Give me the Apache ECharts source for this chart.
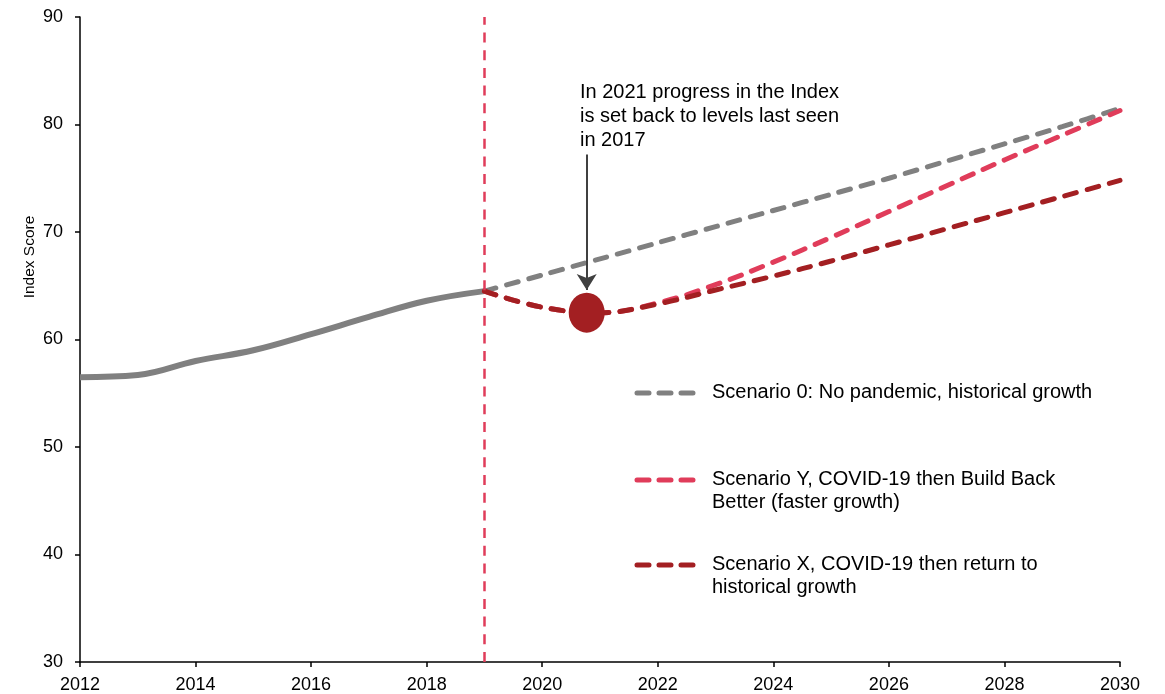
<!DOCTYPE html>
<html>
<head>
<meta charset="utf-8">
<script src="https://cdn.jsdelivr.net/npm/echarts@6/dist/echarts.min.js"></script>
<style>html,body{margin:0;padding:0;background:#fff}#c{width:1165px;height:694px}</style>
</head>
<body>
<div id="c"></div>
<script>
// ---- data ----
const histYears = [2012, 2013, 2014, 2015, 2016, 2017, 2018, 2019];
const histValues = [56.5, 56.7, 58.0, 59.0, 60.5, 62.1, 63.6, 64.5];
const projYears = [2019, 2020, 2021, 2022, 2023, 2024, 2025, 2026, 2027, 2028, 2029, 2030];
const scen0 = [64.5, 66.0, 67.5, 69.0, 70.5, 72.0, 73.5, 75.0, 76.6, 78.2, 79.8, 81.5];
const scenY = [64.5, 63.0, 62.5, 63.4, 65.1, 67.2, 69.5, 71.9, 74.3, 76.7, 79.0, 81.3];
const scenX = [64.5, 63.0, 62.5, 63.3, 64.6, 65.9, 67.3, 68.8, 70.3, 71.8, 73.3, 74.8];
const dipPoint = [2020.77, 62.5];
const arrowFrom = [2020.77, 77.2];
const arrowTo = [2020.77, 64.6];
const covidYear = 2019;
const xTicks = [2012, 2014, 2016, 2018, 2020, 2022, 2024, 2026, 2028, 2030];
const seriesNames = [
  'Scenario 0: No pandemic, historical growth',
  'Scenario Y, COVID-19 then Build Back\nBetter (faster growth)',
  'Scenario X, COVID-19 then return to\nhistorical growth'
];
const annotation = 'In 2021 progress in the Index\nis set back to levels last seen\nin 2017';
const yAxisTitle = 'Index Score';

const GRAY = '#808080', PINK = '#e03c5a', DRED = '#a31f22';
const FONT = '"Liberation Sans", Arial, sans-serif';
const zip = (xs, ys) => xs.map((x, i) => [x, ys[i]]);
const dashLine = (color) => ({ color, width: 5, type: [12, 11], cap: 'round' });

const chart = echarts.init(document.getElementById('c'), null, { renderer: 'canvas' });

// legend built with graphic (icon aligned with first text line)
const legendRows = [
  { name: seriesNames[0], color: GRAY, y: 393 },
  { name: seriesNames[1], color: PINK, y: 480 },
  { name: seriesNames[2], color: DRED, y: 565 }
];
const graphics = [];
legendRows.forEach(r => {
  graphics.push({
    type: 'line', silent: true,
    shape: { x1: 637, y1: r.y, x2: 700, y2: r.y },
    style: { stroke: r.color, lineWidth: 5, lineDash: [12, 10], lineCap: 'round' }
  });
  graphics.push({
    type: 'text', silent: true, left: 712, top: r.y - 12,
    style: { text: r.name, font: '20px ' + FONT, fill: '#000', lineHeight: 23 }
  });
});
graphics.push({
  type: 'text', silent: true, left: 580, top: 80,
  style: { text: annotation, font: '20px ' + FONT, fill: '#000', lineHeight: 24 }
});
graphics.push({
  type: 'text', silent: true, x: 30, y: 257, rotation: Math.PI / 2,
  style: { text: yAxisTitle, font: '15.5px ' + FONT, fill: '#000', align: 'center', verticalAlign: 'middle' }
});

chart.setOption({
  animation: false,
  grid: { left: 80, right: 45, top: 17, bottom: 32 },
  xAxis: {
    type: 'value', min: 2012, max: 2030, interval: 2,
    axisLine: { lineStyle: { color: '#000', width: 1.5 } },
    axisTick: { show: true, length: 5, lineStyle: { color: '#000', width: 1.5 } },
    axisLabel: { color: '#000', fontSize: 18, fontFamily: FONT, margin: 14,
      formatter: v => xTicks.includes(v) ? String(v) : '' },
    splitLine: { show: false }
  },
  yAxis: {
    type: 'value', min: 30, max: 90, interval: 10,
    axisLine: { show: true, lineStyle: { color: '#000', width: 1.5 } },
    axisTick: { show: true, length: 5, lineStyle: { color: '#000', width: 1.5 } },
    axisLabel: { color: '#000', fontSize: 18, fontFamily: FONT, margin: 17 },
    splitLine: { show: false }
  },
  graphic: graphics,
  series: [
    {
      name: 'Historical', type: 'line', smooth: 0.4, showSymbol: false, z: 3,
      data: zip(histYears, histValues),
      lineStyle: { color: GRAY, width: 6 },
      markLine: {
        silent: true, symbol: ['none', 'none'], label: { show: false },
        lineStyle: { color: PINK, width: 2.5, type: [10, 7.7] },
        data: [{ xAxis: covidYear }]
      }
    },
    {
      name: seriesNames[0], type: 'line', smooth: 0.3, showSymbol: false, z: 3,
      data: zip(projYears, scen0), lineStyle: dashLine(GRAY)
    },
    {
      name: seriesNames[1], type: 'line', smooth: 0.4, showSymbol: false, z: 3,
      data: zip(projYears, scenY), lineStyle: dashLine(PINK)
    },
    {
      name: seriesNames[2], type: 'line', smooth: 0.4, showSymbol: false, z: 4,
      data: zip(projYears, scenX), lineStyle: dashLine(DRED)
    },
    {
      name: 'Dip', type: 'scatter', z: 5,
      data: [dipPoint], symbol: 'circle', symbolSize: [36, 40],
      itemStyle: { color: DRED, opacity: 1 },
      markLine: {
        silent: true, symbol: ['none', 'arrow'], symbolSize: [15, 16],
        label: { show: false },
        lineStyle: { color: '#404040', width: 2, type: 'solid' },
        data: [[{ coord: arrowFrom }, { coord: arrowTo }]]
      }
    }
  ]
});
</script>
</body>
</html>
